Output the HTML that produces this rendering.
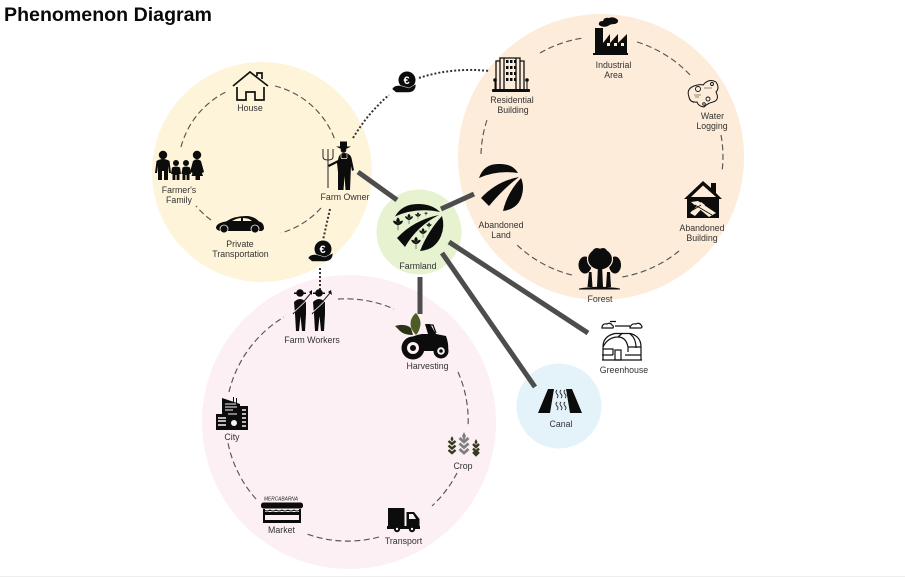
<!DOCTYPE html>
<html><head><meta charset="utf-8"><style>
html,body{margin:0;padding:0;background:#fff;width:905px;height:577px;overflow:hidden}
svg{display:block;filter:blur(.3px)}
text{font-family:"Liberation Sans",sans-serif;font-size:8.8px;fill:#333;text-anchor:middle}
.d{fill:none;stroke:#555;stroke-width:1.15;stroke-dasharray:6 3.5}
.o{fill:none;stroke:#333;stroke-width:2;stroke-dasharray:2 2}
.t{stroke:#4d4d4d;stroke-width:5;fill:none}
.l{fill:none;stroke:#111;stroke-width:1.7}
.k{fill:#0c0c0c}
.w{fill:none;stroke:#333a20;stroke-width:2.4}
</style></head><body>
<svg width="905" height="577" viewBox="0 0 905 577" xmlns="http://www.w3.org/2000/svg">
<rect width="905" height="577" fill="#fff"/>
<rect y="576" width="905" height="1" fill="#eeeeee"/>
<text x="4" y="21" textLength="208" lengthAdjust="spacingAndGlyphs" style="font-size:19px;font-weight:bold;fill:#0a0a0a;text-anchor:start">Phenomenon Diagram</text>

<circle cx="262" cy="172" r="110" fill="#fdf4d9"/>
<circle cx="601" cy="157" r="143" fill="#fdecd9"/>
<circle cx="349" cy="422" r="147" fill="#fcf0f4"/>
<circle cx="419" cy="232" r="42.5" fill="#e6f2d0"/>
<circle cx="559" cy="406" r="42.5" fill="#e4f3fa"/>

<!-- dashed rings -->
<path class="d" d="M181 147A86 86 0 0 1 228 91"/>
<path class="d" d="M275 86A86 86 0 0 1 335 140"/>
<path class="d" d="M321 208A86 86 0 0 1 281 233"/>
<path class="d" d="M211 220A86 86 0 0 1 196 206"/>
<path class="d" d="M540 53A122 122 0 0 1 583 38"/>
<path class="d" d="M637 42A122 122 0 0 1 691 76"/>
<path class="d" d="M721 135A122 122 0 0 1 722 172"/>
<path class="d" d="M679 251A122 122 0 0 1 622 277"/>
<path class="d" d="M572 275A122 122 0 0 1 515 243"/>
<path class="d" d="M481 154A122 122 0 0 1 488 117"/>
<path class="d" d="M338 299A120 120 0 0 1 394 309"/>
<path class="d" d="M458 372A120 120 0 0 1 468 427"/>
<path class="d" d="M457 473A120 120 0 0 1 432 506"/>
<path class="d" d="M379 537A120 120 0 0 1 307 534"/>
<path class="d" d="M256 499A120 120 0 0 1 228 443"/>
<path class="d" d="M229 392A120 120 0 0 1 284 317"/>

<!-- dotted -->
<path class="o" d="M419 78Q452 67 490 71"/>
<path class="o" d="M353 138Q368 113 389 95"/>
<path class="o" d="M330 209L323 240"/>
<path class="o" d="M320 268L320 292"/>

<!-- thick -->
<path class="t" d="M358 172L397 200"/>
<path class="t" d="M441 209L474 194"/>
<path class="t" d="M420 277V314"/>
<path class="t" d="M442 253L535 387"/>
<path class="t" d="M449 242L588 333"/>

<!-- House -->
<path class="l" d="M233 86L250 72L268 86M237 87V100H246V92H255V100H264V87M257 76V73H262V79"/>

<!-- Family -->
<g class="k">
<circle cx="163" cy="155" r="4.200"/><path d="M155 173L156.500 161Q163 157 169.500 161L171 173H169L168 166V180H164V171H162V180H158V166L157 173Z"/>
<circle cx="176" cy="163" r="3"/><path d="M171 174L172 167.500Q176 165.500 180 167.500L181 174H179.500V180H176.600V175H175.400V180H172.500V174Z"/>
<circle cx="186" cy="163" r="3"/><path d="M181.500 174L182.500 167.500Q186 165.500 190 167.500L191 174H189.500V180H186.600V175H185.400V180H182.500V174Z"/>
<circle cx="197" cy="155" r="4.200"/><path d="M190 172L193 161Q197 157.500 201 161L204 172L202 173L203 176H200V180H195.500V176H191.500L192.500 173Z"/>
</g>

<!-- Farm owner -->
<path d="M328 188V160M323 149V157Q323 160 328 160Q333 160 333 157V149M328 149V160" fill="none" stroke="#222" stroke-width="1"/>
<g class="k">
<path d="M336 146.500L351 146.500L347 148.500Q344 150 340 148.500Z"/><rect x="340" y="141.500" width="7" height="5"/>
<circle cx="343.500" cy="150" r="2.800"/>
<path d="M328 165L338 160Q339 153 344 153Q350 153 351.500 158L354 170L352 171L351 166L350.500 178L350 190H345.500L344.500 176L343.500 190H338V172L337 163L329 167Z"/>
</g>
<path d="M341 154V158M347 154V158M341 158.500H347" stroke="#fdf4d9" stroke-width=".7" fill="none"/>

<!-- Car -->
<path class="k" d="M216 228Q216 223 226 221.500Q234 216 246 216Q254 216 259 221.500Q264 222.500 264 229L262 231H222Q217 231 216 228Z"/>
<circle cx="224" cy="229" r="4" class="k" stroke="#fdf4d9" stroke-width=".8"/><circle cx="255" cy="229" r="4" class="k" stroke="#fdf4d9" stroke-width=".8"/>
<path d="M232 221Q237 218 241 218V221ZM243 218Q249 218 252 221H243Z" fill="#fdf4d9"/>

<!-- Money -->
<circle cx="407" cy="80" r="8.500" class="k"/>
<path class="k" stroke="#fff" stroke-width=".5" d="M392 89Q395 84 402 86L409 88L416 84Q416 92 409 92.500H396Z"/>
<text x="406.500" y="84" style="font-size:11px;fill:#fff;font-weight:bold">€</text>
<circle cx="323" cy="249" r="8.500" class="k"/>
<path class="k" stroke="#fff" stroke-width=".5" d="M308 258Q311 253 318 255L325 257L333 253Q333 261 325 261.500H312Z"/>
<text x="322.500" y="253" style="font-size:11px;fill:#fff;font-weight:bold">€</text>

<!-- Farmland -->
<g class="k">
<path d="M395 216.500Q402 204 418 204Q432 204 440 212Q416 207 395 216.500Z"/>
<path d="M439 215Q414 220 397 238L405 247Q417 226 439 215Z"/>
<path d="M442 216Q428 231 420 251Q435 250 441 236Q445 226 442 216Z"/>
<g stroke="#111" stroke-width=".5" stroke-linejoin="round">
<path transform="translate(398 224) scale(1.05)" d="M0 6V-1M0 -6Q3 -3 0 -1Q-3 -3 0 -6ZM0 1Q4 0 4.500 -3Q1 -3 0 1ZM0 1Q-4 0 -4.500 -3Q-1 -3 0 1Z"/>
<path transform="translate(409 219) scale(.85)" d="M0 6V-1M0 -6Q3 -3 0 -1Q-3 -3 0 -6ZM0 1Q4 0 4.500 -3Q1 -3 0 1ZM0 1Q-4 0 -4.500 -3Q-1 -3 0 1Z"/>
<path transform="translate(418 216) scale(.6)" d="M0 6V-1M0 -6Q3 -3 0 -1Q-3 -3 0 -6ZM0 1Q4 0 4.500 -3Q1 -3 0 1ZM0 1Q-4 0 -4.500 -3Q-1 -3 0 1Z"/>
<path transform="translate(426 214) scale(.35)" d="M0 6V-1M0 -6Q3 -3 0 -1Q-3 -3 0 -6ZM0 1Q4 0 4.500 -3Q1 -3 0 1ZM0 1Q-4 0 -4.500 -3Q-1 -3 0 1Z"/>
<path transform="translate(429 226) scale(.55)" d="M0 6V-1M0 -6Q3 -3 0 -1Q-3 -3 0 -6ZM0 1Q4 0 4.500 -3Q1 -3 0 1ZM0 1Q-4 0 -4.500 -3Q-1 -3 0 1Z"/>
<path transform="translate(423 233) scale(.8)" d="M0 6V-1M0 -6Q3 -3 0 -1Q-3 -3 0 -6ZM0 1Q4 0 4.500 -3Q1 -3 0 1ZM0 1Q-4 0 -4.500 -3Q-1 -3 0 1Z"/>
<path transform="translate(416 243) scale(1)" d="M0 6V-1M0 -6Q3 -3 0 -1Q-3 -3 0 -6ZM0 1Q4 0 4.500 -3Q1 -3 0 1ZM0 1Q-4 0 -4.500 -3Q-1 -3 0 1Z"/>
</g>
</g>

<!-- Abandoned land -->
<g class="k">
<path d="M479 178Q484 163 500 164Q513 164 518 173Q497 170 479 178Z"/>
<path d="M519 177Q497 181 481 198L489 206Q504 188 519 177Z"/>
<path d="M521 178Q507 193 503 211Q517 209 521 198Q525 187 521 178Z"/>
</g>

<!-- Residential -->
<path class="l" style="stroke-width:1.3" d="M500 58H520V90H500ZM504 58V90M516 58V90M520 61H524V90M500 61H496V90"/>
<g class="k">
<rect x="506" y="60" width="2.500" height="3"/><rect x="510" y="60" width="2.500" height="3"/><rect x="514" y="60" width="2.500" height="3"/>
<rect x="506" y="66" width="2.500" height="3"/><rect x="510" y="66" width="2.500" height="3"/><rect x="514" y="66" width="2.500" height="3"/>
<rect x="506" y="72" width="2.500" height="3"/><rect x="510" y="72" width="2.500" height="3"/><rect x="514" y="72" width="2.500" height="3"/>
<rect x="506" y="78" width="2.500" height="3"/><rect x="510" y="78" width="2.500" height="3"/><rect x="514" y="78" width="2.500" height="3"/>
<rect x="492" y="89" width="38" height="3" rx="1"/>
<circle cx="495" cy="80" r="1.800"/><rect x="494.500" y="80" width="1" height="9"/>
<circle cx="527" cy="80" r="1.800"/><rect x="526.500" y="80" width="1" height="9"/>
</g>

<!-- Factory -->
<path class="k" d="M593 53H595V28H603V43L610 34V43L618 34V43L627 34V53H628V55H593Z"/>
<path class="k" d="M599 25Q598 21 603 21Q604 17 609 18Q613 16 617 19Q620 22 615 24Q610 24 608 26Q603 28 599 25Z"/>
<g fill="#fdecd9"><rect x="607" y="43" width="3" height="3"/><rect x="614" y="43" width="3" height="3"/><rect x="621" y="43" width="3" height="3"/></g>

<!-- Water -->
<path class="l" style="stroke-width:1" d="M689 97Q686 89 694 86Q700 84 703 85Q709 78 716 82Q720 88 716 92Q720 100 713 102Q708 103 704 107Q698 106 697 102Q690 103 689 97Z"/>
<circle cx="698" cy="89" r="2.500" class="l" style="stroke-width:.9"/><circle cx="712" cy="84" r="1.500" class="l" style="stroke-width:.9"/><circle cx="708" cy="99" r="2" class="l" style="stroke-width:.9"/><circle cx="704" cy="104" r="1.300" class="l" style="stroke-width:.9"/>
<path d="M694 95H701M695 97H699M704 88H712" stroke="#222" stroke-width=".6" fill="none"/>

<!-- Abandoned building -->
<path class="k" d="M684 199L703 181L711 188V183H716V193L722 199H719V218H687V199Z"/>
<path d="M691 197H716L703 185.500Z" fill="#fdecd9"/>
<path d="M691 202L698 201L716 213L709 217ZM690 213L701 202L705 205L695 216Z" fill="#fdecd9"/>
<path d="M695 205L712 215M693 210L701 205" stroke="#0c0c0c" stroke-width=".8"/>

<!-- Forest -->
<g class="k">
<path d="M579 288.500Q600 285 620 288.500V289.500H579Z"/>
<ellipse cx="585" cy="265" rx="6.500" ry="8.500"/><ellipse cx="615" cy="265" rx="6" ry="8.500"/>
<path d="M589 272H591.500L592.500 287H587.500ZM607 272H610L611 287H606Z"/>
</g>
<ellipse cx="600" cy="259" rx="12.500" ry="11" class="k" stroke="#fdecd9" stroke-width="1.200"/>
<circle cx="597" cy="253" r="5" class="k"/><circle cx="603" cy="252" r="4" class="k"/>
<path class="k" d="M598 265H602L603 287H597Z"/>

<!-- Workers -->
<g class="k">
<circle cx="300" cy="293" r="3.800"/><rect x="294" y="292.500" width="12" height="1.500"/>
<path d="M294 302Q300 296 306 302V314L305 331H302L300.500 316L299 331H296L295 314Z"/>
<circle cx="319" cy="293" r="3.800"/><rect x="313" y="292.500" width="12" height="1.500"/>
<path d="M313 302Q319 296 325 302V314L324 331H321L319.500 316L318 331H315L314 314Z"/>
</g>
<path d="M293 314L311 293M312 314L330 293" stroke="#222" stroke-width="1"/>
<path d="M294 312L306 301M313 312L325 301" stroke="#fcf0f4" stroke-width=".8"/>
<path class="k" d="M309 292L312 290L312 295ZM328 292L331 290L332 295Z"/>

<!-- Tractor -->
<path class="k" d="M404 345Q408 336 422 334L428 334L425 324H430L436 334L446 336Q449 344 448 351H402Z"/>
<path d="M426 325H433L436 333" fill="none" stroke="#111" stroke-width="1.300"/>
<circle cx="413" cy="348" r="11.500" class="k"/><circle cx="413" cy="348" r="6" fill="#fcf0f4"/><circle cx="413" cy="348" r="3" class="k"/>
<circle cx="441" cy="351" r="7.500" class="k"/><circle cx="441" cy="351" r="3.800" fill="#fcf0f4"/><circle cx="441" cy="351" r="1.800" class="k"/>
<path d="M416 335Q409 328 411 320Q413 315 416 313Q422 320 420 327Q419 332 416 335Z" fill="#4d5c24"/>
<path d="M413 335Q404 335 400 331L395 326Q405 323 411 328Z" fill="#2c3318"/>

<!-- Crop -->
<path class="w" d="M448.500 441L452 444L455.500 441M448.500 445.500L452 448.500L455.500 445.500M448.500 450L452 453L455.500 450"/>
<path d="M452 436L453.500 439L452 442L450.500 439Z" fill="#333a20"/>
<path class="w" style="stroke:#7f7f7f;stroke-width:2.800" d="M459.500 438L464 442L468.500 438M459.500 443.500L464 447.500L468.500 443.500M459.500 449L464 453L468.500 449"/>
<path d="M464 432L466 436L464 441L462 436Z" fill="#7f7f7f"/>
<path class="w" d="M473 444L476 447L479 444M473 448.500L476 451.500L479 448.500M473 452L476 455L479 452"/>
<path d="M476 439L477.500 442L476 445L474.500 442Z" fill="#333a20"/>

<!-- Truck -->
<g class="k">
<rect x="388" y="508" width="16.500" height="18"/>
<path d="M406.500 512H414L419.500 519V527H406.500ZM387 526H420V529H387Z"/>
<circle cx="397" cy="529" r="3.200"/><circle cx="412" cy="529" r="3.200"/>
</g>
<path d="M409 514H413L416 519H409Z" fill="#fcf0f4"/>
<circle cx="397" cy="529" r="1.200" fill="#fcf0f4"/><circle cx="412" cy="529" r="1.200" fill="#fcf0f4"/>

<!-- Market -->
<text x="281" y="500.500" style="font-size:5.200px;font-style:italic;fill:#222" textLength="34" lengthAdjust="spacingAndGlyphs">MERCABARNA</text>
<rect x="261" y="502.500" width="42" height="6" rx="2.500" class="k"/>
<path d="M264 510Q267 512 270 510Q273 512 276 510Q279 512 282 510Q285 512 288 510Q291 512 294 510Q297 512 300 510" stroke="#111" fill="none" stroke-width=".9"/>
<path class="k" d="M263 509H265V512H299V509H301V523H263ZM265 515V520H299V515Z"/>

<!-- City -->
<g class="k">
<path d="M222 398L240 404V430H222Z"/>
<rect x="216" y="414" width="12" height="16"/>
<rect x="239" y="406" width="9" height="24"/>
<rect x="233" y="397" width="1" height="6"/><rect x="236" y="398" width="1" height="6"/>
</g>
<path d="M225 404H236M225 407H237M225 410H233M228 414H237" stroke="#fcf0f4" stroke-width="1"/>
<path d="M218 418H226M218 421H226M218 425H226M242 410H246M242 414H246M242 418H246M242 422H246M242 426H246" stroke="#fcf0f4" stroke-width="1.500"/>
<circle cx="234" cy="423" r="3" fill="#fcf0f4"/>

<!-- Canal -->
<path class="k" d="M548 389H554L550 413H538ZM566 389H572L582 413H570Z"/>
<path d="M557 390Q555 392 557 394Q559 396 557 398M561 390Q559 392 561 394Q563 396 561 398M565 390Q563 392 565 394Q567 396 565 398M557 402Q555 404 557 406Q559 408 557 410M561 402Q559 404 561 406Q563 408 561 410M565 402Q563 404 565 406Q567 408 565 410" fill="none" stroke="#222" stroke-width=".9"/>

<!-- Greenhouse -->
<g fill="none" stroke="#111" stroke-width="1.200">
<path d="M603 360V347Q603 336 615 333.500H630Q641 336 641 347V360"/>
<path d="M603 347Q608 337 618 337Q626 337 628 347V352M618 337L622 333.500M628 347H641M603 349H613V355"/>
<path d="M630 334Q636 338 636 348"/>
<path d="M602 327Q603 323 607 324Q610 322 612 325Q614 326 613 328H602ZM630 327Q632 323 636 324Q639 322 641 325Q643 327 641 328H630Z"/>
<path d="M615 326H630M610 321.500H616"/>
<rect x="615" y="350" width="6" height="10"/>
<path d="M602 355H613M602 360H642M625 355H641"/>
</g>

<!-- Labels -->
<text x="250" y="111">House</text>
<text x="179" y="193">Farmer's</text><text x="179" y="203">Family</text>
<text x="240" y="247">Private</text><text x="240.500" y="257">Transportation</text>
<text x="345" y="200">Farm Owner</text>
<text x="418" y="269">Farmland</text>
<text x="512" y="103">Residential</text><text x="513" y="113">Building</text>
<text x="613.500" y="68">Industrial</text><text x="613.500" y="78">Area</text>
<text x="712.500" y="119">Water</text><text x="712" y="129">Logging</text>
<text x="702" y="231">Abandoned</text><text x="702" y="241">Building</text>
<text x="600" y="302">Forest</text>
<text x="501" y="228">Abandoned</text><text x="501" y="238">Land</text>
<text x="312" y="343">Farm Workers</text>
<text x="427.500" y="369">Harvesting</text>
<text x="232" y="440">City</text>
<text x="463" y="469">Crop</text>
<text x="281.500" y="533">Market</text>
<text x="403.500" y="544">Transport</text>
<text x="561" y="427">Canal</text>
<text x="624" y="373">Greenhouse</text>
</svg>
</body></html>
